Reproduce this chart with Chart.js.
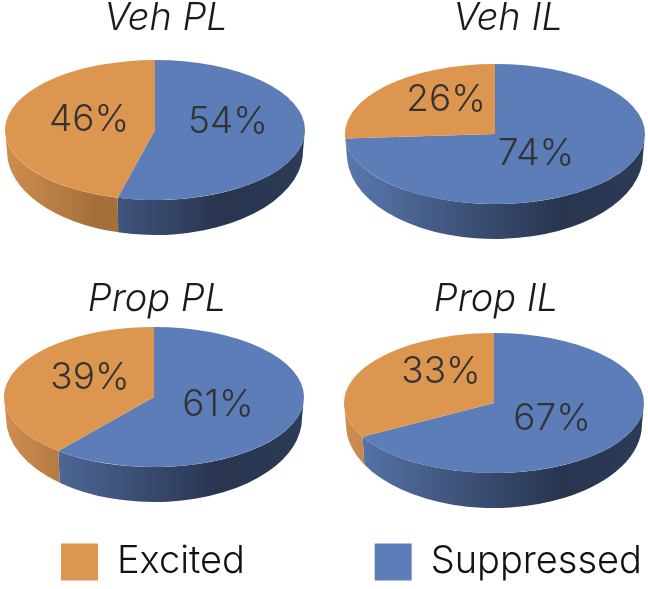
<!DOCTYPE html>
<html>
<head>
<meta charset="utf-8">
<title>Pie charts</title>
<script src="https://cdn.jsdelivr.net/npm/chart.js@4"></script>
<style>
html,body{margin:0;padding:0;background:#fff;overflow:hidden;}
#wrap{position:relative;width:648px;height:589px;overflow:hidden;}
canvas{position:absolute;}
</style>
</head>
<body>
<div id="wrap">
<canvas id="c1"></canvas>
<canvas id="c2"></canvas>
<canvas id="c3"></canvas>
<canvas id="c4"></canvas>
</div>
<script>
// suppressed first so it starts at 12 o'clock and runs clockwise
const categories = ['Suppressed', 'Excited'];
const vehPL = [54, 46];
const vehIL = [74, 26];
const propPL = [61, 39];
const propIL = [67, 33];

const BLUE = '#5c7db7';
const ORANGE = '#dd9650';
const TEXT_FONT = 'Inter, "Liberation Sans", sans-serif';

const RX = 150, RY = 70;

// draws the arcs squashed to an ellipse, with a side wall under them
const pie3d = {
  id: 'pie3d',
  beforeDatasetsDraw(chart, args, opts) {
    const ctx = chart.ctx, arcs = chart.getDatasetMeta(0).data;
    const cx = opts.cx, cy = opts.cy;
    const walls = [
      [[0, '#5a78ae'], [0.45, '#3a4d72'], [0.72, '#29354f'], [1, '#2c3b57']],
      [[0, '#cf8e50'], [0.3, '#a56f3a'], [1, '#a56f3a']]
    ];
    arcs.forEach((a, i) => {
      const from = Math.max(a.startAngle, 0), to = Math.min(a.endAngle, Math.PI);
      if (to <= from) return;
      const g = ctx.createLinearGradient(cx - RX, 0, cx + RX, 0);
      walls[i].forEach(s => g.addColorStop(s[0], s[1]));
      ctx.beginPath();
      ctx.ellipse(cx, cy, RX, RY, 0, from, to);
      ctx.ellipse(cx, cy + 21, RX - 2, RY + 14, 0, to, from, true);
      ctx.closePath();
      ctx.fillStyle = g;
      ctx.fill();
    });
    ctx.save();
    ctx.translate(cx, cy);
    ctx.scale(1, RY / RX);
    ctx.translate(-arcs[0].x, -arcs[0].y);
  },
  afterDatasetsDraw(chart, args, opts) {
    const ctx = chart.ctx;
    ctx.restore();
    ctx.fillStyle = '#333';
    ctx.font = '300 37px ' + TEXT_FONT;
    ctx.textAlign = 'center';
    ctx.textBaseline = 'middle';
    chart.data.datasets[0].data.forEach((v, i) => {
      ctx.fillText(v + '%', opts.cx + opts.shift[i][0], opts.cy + opts.shift[i][1]);
    });
  }
};

function makePie(id, title, values, box, pie, legendOpts) {
  const el = document.getElementById(id);
  el.width = box.w; el.height = box.h;
  el.style.left = box.x + 'px'; el.style.top = box.y + 'px';
  return new Chart(el, {
    type: 'pie',
    data: {labels: categories, datasets: [{data: values, backgroundColor: [BLUE, ORANGE], borderWidth: 0, clip: false}]},
    options: {
      responsive: false,
      animation: false,
      radius: RX,
      plugins: {
        tooltip: {enabled: false},
        title: {display: true, text: title, color: '#1a1a1a', padding: 0,
          font: {family: TEXT_FONT, size: 38, style: 'italic', weight: '300', lineHeight: 1}},
        legend: legendOpts || {display: false},
        pie3d: {cx: pie.x - box.x, cy: pie.y - box.y, shift: pie.shift}
      }
    },
    plugins: [pie3d]
  });
}

function legendFor(name, align, padding) {
  return {
    display: true, position: 'bottom', align: align,
    labels: {
      boxWidth: 37, boxHeight: 37, padding: padding, color: '#111',
      font: {family: TEXT_FONT, size: 38, weight: '300', lineHeight: 1},
      filter: item => item.text === name
    }
  };
}

makePie('c1', 'Veh PL', vehPL, {x: 0, y: 0, w: 332, h: 260},
  {x: 155, y: 130, shift: [[73, -8], [-66, -10]]});
makePie('c2', 'Veh IL', vehIL, {x: 344, y: 0, w: 328, h: 260},
  {x: 495, y: 134, shift: [[41, 20], [-49, -34]]});
makePie('c3', 'Prop PL', propPL, {x: 0, y: 281, w: 314, h: 310},
  {x: 154, y: 397, shift: [[64, 8], [-64, -19]]}, legendFor('Excited', 'start', 61));
makePie('c4', 'Prop IL', propIL, {x: 344, y: 281, w: 304, h: 310},
  {x: 494, y: 403, shift: [[58, 16], [-53, -31]]}, legendFor('Suppressed', 'end', 6));
</script>
</body>
</html>
